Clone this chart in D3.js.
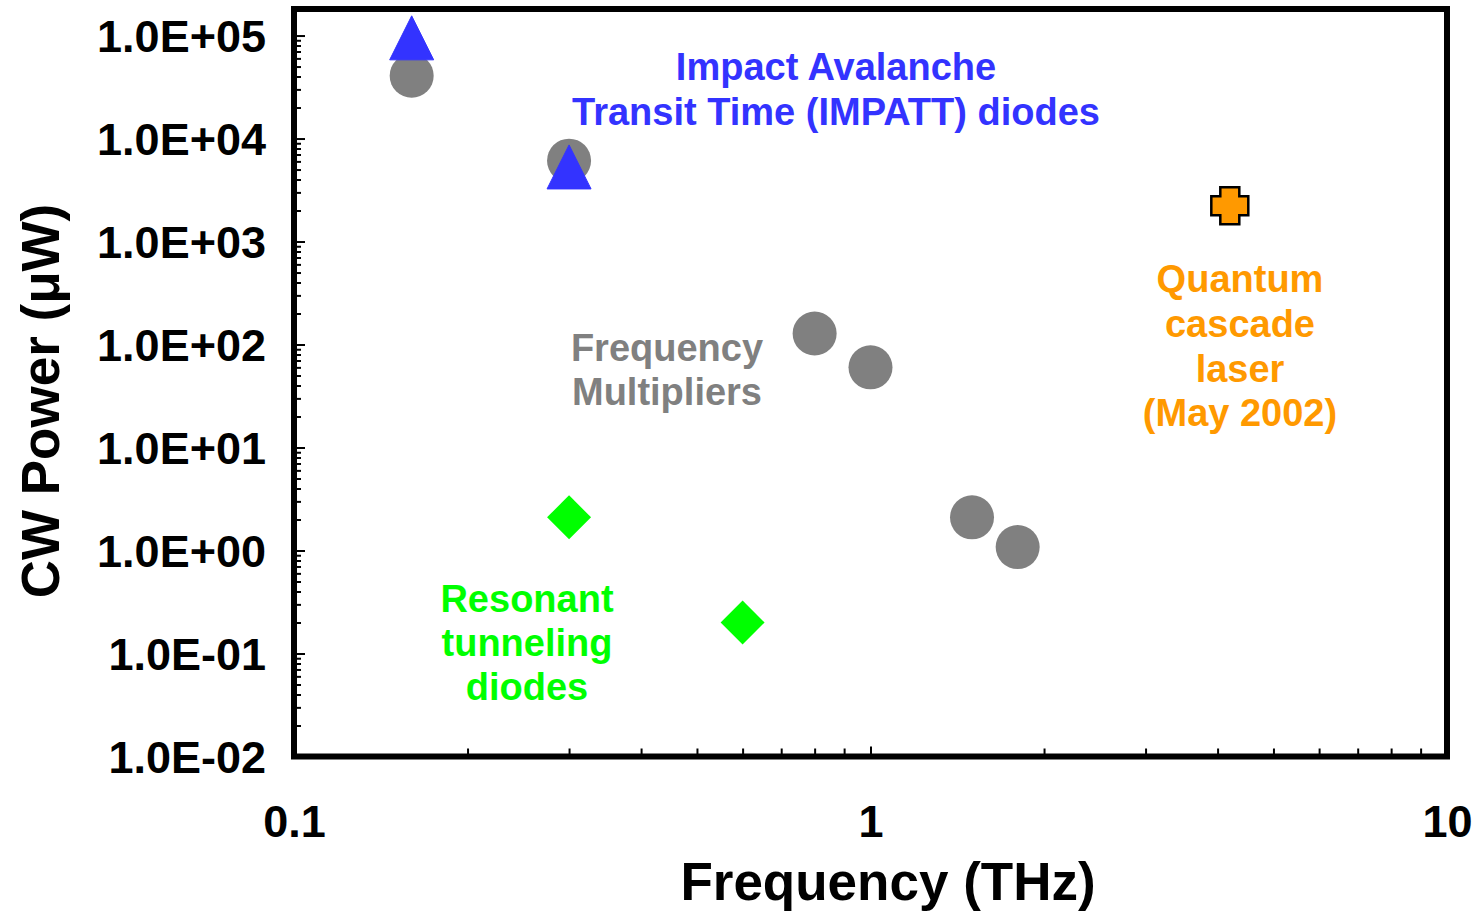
<!DOCTYPE html>
<html>
<head>
<meta charset="utf-8">
<script src="https://cdn.jsdelivr.net/npm/d3@7"></script>
<style>
  html, body { margin: 0; padding: 0; background: #fff; }
  svg { display: block; font-family: "Liberation Sans", Arial, Helvetica, sans-serif; font-weight: bold; }
</style>
</head>
<body>
<svg id="chart" width="1482" height="912"></svg>
<script>
// THz source output power (CW, microwatts) versus frequency (THz)
const multiplierFreq  = [0.16, 0.3, 0.8, 1.0, 1.5, 1.8];
const multiplierPower = [40700, 6100, 128, 60, 2.1, 1.08];

const impattFreq  = [0.16, 0.3];
const impattPower = [95000, 5300];

const rtdFreq  = [0.3, 0.6];
const rtdPower = [2.1, 0.2];

const qclFreq  = [4.2];
const qclPower = [2230];

const xTickValues = [0.1, 1, 10];
const xTickLabels = ["0.1", "1", "10"];
const yTickValues = [1e-2, 1e-1, 1e0, 1e1, 1e2, 1e3, 1e4, 1e5];
const yTickLabels = ["1.0E-02", "1.0E-01", "1.0E+00", "1.0E+01", "1.0E+02", "1.0E+03", "1.0E+04", "1.0E+05"];

const colors = {
  multiplier: "#808080",
  impatt: "#3333ff",
  rtd: "#00ff00",
  qcl: "#ff9900"
};

const svg = d3.select("#chart");
const plotLeft = 294, plotTop = 9, plotRight = 1447, plotBottom = 756.5;
const W = plotRight - plotLeft, H = plotBottom - plotTop;

const x = d3.scaleLog().domain([0.1, 10]).range([0, W]);
const y = d3.scaleLog().domain([0.01, 1.81e5]).range([H, 0]);

const g = svg.append("g").attr("transform", `translate(${plotLeft},${plotTop})`);

// minor tick positions: 2..9 within every decade
function minors(lo, hi) {
  const out = [];
  for (let e = Math.floor(Math.log10(lo)); e < Math.ceil(Math.log10(hi)); e++) {
    for (let k = 2; k <= 9; k++) {
      const v = k * Math.pow(10, e);
      if (v > lo && v < hi) out.push(v);
    }
  }
  return out;
}

// Y axis: ticks pointing into the plot
const yMinor = g.append("g").call(
  d3.axisLeft(y).tickValues(minors(0.01, 1e5)).tickSize(-7).tickFormat(""));
const yMajor = g.append("g").call(
  d3.axisLeft(y).tickValues(yTickValues).tickSize(-11).tickPadding(28)
    .tickFormat((d, i) => yTickLabels[i]));

// X axis: ticks pointing up into the plot
const xMinor = g.append("g").attr("transform", `translate(0,${H})`).call(
  d3.axisBottom(x).tickValues(minors(0.1, 10)).tickSize(-8).tickFormat(""));
const xMajor = g.append("g").attr("transform", `translate(0,${H})`).call(
  d3.axisBottom(x).tickValues(xTickValues).tickSize(-10)
    .tickFormat((d, i) => xTickLabels[i]));

[yMinor, yMajor, xMinor, xMajor].forEach(ax => {
  ax.select(".domain").remove();
  ax.selectAll(".tick line").attr("stroke", "#000").attr("stroke-width", 2);
  ax.attr("font-family", null).attr("font-size", null);
});

yMajor.selectAll(".tick text")
  .attr("font-size", 45).attr("fill", "#000")
  .attr("dy", 16);
xMajor.selectAll(".tick text")
  .attr("font-size", 45).attr("fill", "#000")
  .attr("y", 80.5).attr("dy", 0);

// plot frame
g.append("rect")
  .attr("x", 0).attr("y", 0).attr("width", W).attr("height", H)
  .attr("fill", "none").attr("stroke", "#000").attr("stroke-width", 6);

// markers
const mult = multiplierFreq.map((f, i) => ({ f, p: multiplierPower[i] }));
const imp = impattFreq.map((f, i) => ({ f, p: impattPower[i] }));
const rtd = rtdFreq.map((f, i) => ({ f, p: rtdPower[i] }));
const qcl = qclFreq.map((f, i) => ({ f, p: qclPower[i] }));

g.append("g").selectAll("circle").data(mult).join("circle")
  .attr("cx", d => x(d.f)).attr("cy", d => y(d.p)).attr("r", 22)
  .attr("fill", colors.multiplier);

// triangle: 44 wide, 44 tall, centered on the point
const tri = "M0,-22 L22,22 L-22,22 Z";
g.append("g").selectAll("path").data(imp).join("path")
  .attr("d", tri)
  .attr("transform", d => `translate(${x(d.f)},${y(d.p)})`)
  .attr("fill", colors.impatt).attr("stroke", colors.impatt)
  .attr("stroke-width", 1).attr("stroke-linejoin", "round");

const diamond = "M0,-22 L22,0 L0,22 L-22,0 Z";
g.append("g").selectAll("path").data(rtd).join("path")
  .attr("d", diamond)
  .attr("transform", d => `translate(${x(d.f)},${y(d.p)})`)
  .attr("fill", colors.rtd);

const armOut = 18.5, armIn = 9.5;
const cross = `M${-armIn},${-armOut} H${armIn} V${-armIn} H${armOut} V${armIn} H${armIn} V${armOut} H${-armIn} V${armIn} H${-armOut} V${-armIn} H${-armIn} Z`;
g.append("g").selectAll("path").data(qcl).join("path")
  .attr("d", cross)
  .attr("transform", d => `translate(${x(d.f)},${y(d.p)})`)
  .attr("fill", colors.qcl).attr("stroke", "#000").attr("stroke-width", 2.5);

// annotations
function label(lines, cx, baseline0, color, step) {
  const t = svg.append("text")
    .attr("text-anchor", "middle").attr("font-size", 38).attr("fill", color);
  lines.forEach((s, i) => {
    t.append("tspan").attr("x", cx).attr("y", baseline0 + i * step).text(s);
  });
}
label(["Impact Avalanche", "Transit Time (IMPATT) diodes"], 836, 80, colors.impatt, 44.5);
label(["Frequency", "Multipliers"], 667, 361, colors.multiplier, 43.5);
label(["Resonant", "tunneling", "diodes"], 527, 612, colors.rtd, 44);
label(["Quantum", "cascade", "laser", "(May 2002)"], 1240, 292, colors.qcl, 44.8);

// axis titles
svg.append("text")
  .attr("x", 888).attr("y", 900)
  .attr("text-anchor", "middle").attr("font-size", 53).attr("fill", "#000")
  .text("Frequency (THz)");

svg.append("text")
  .attr("transform", "translate(59,401) rotate(-90)")
  .attr("text-anchor", "middle").attr("font-size", 53).attr("fill", "#000")
  .text("CW Power (\u03bcW)");
</script>
</body>
</html>
